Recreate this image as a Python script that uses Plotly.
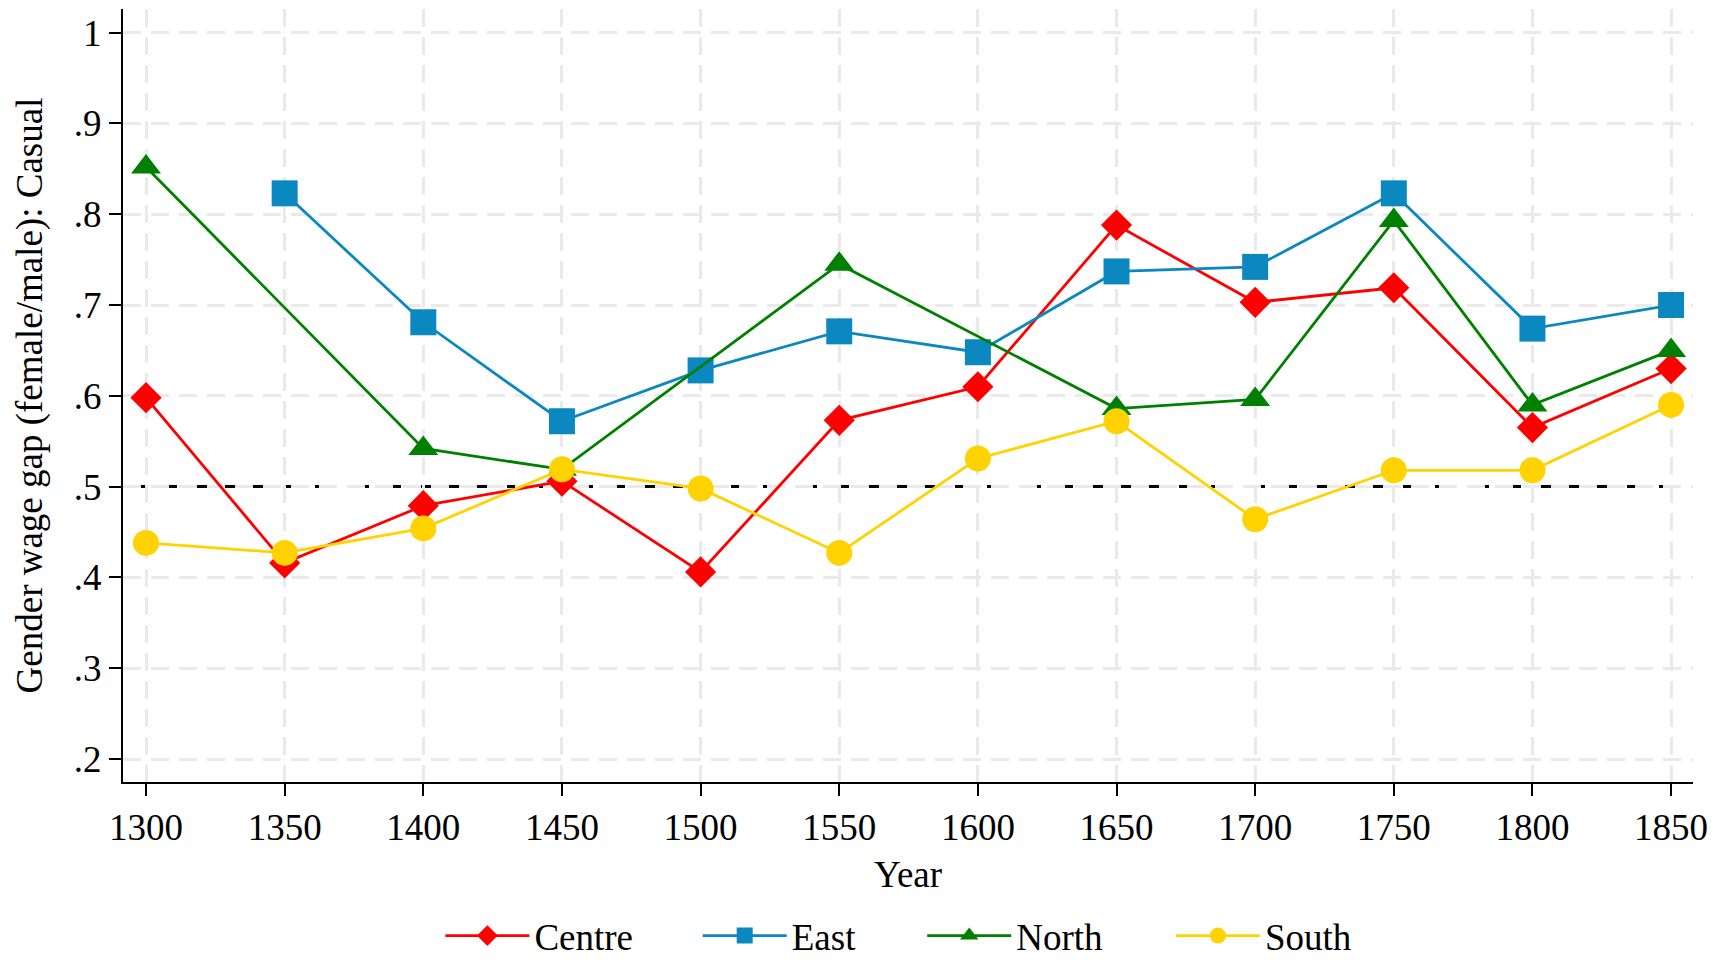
import plotly.graph_objects as go

years = [1300, 1350, 1400, 1450, 1500, 1550, 1600, 1650, 1700, 1750, 1800, 1850]

centre = [0.598, 0.416, 0.479, 0.506, 0.406, 0.573, 0.610, 0.788, 0.703, 0.719, 0.565, 0.630]
east = [None, 0.823, 0.681, 0.572, 0.628, 0.671, 0.648, 0.737, 0.742, 0.823, 0.674, 0.700]
north = [0.852, None, 0.542, 0.519, None, 0.745, None, 0.586, 0.596, 0.793, 0.590, 0.650]
south = [0.438, 0.427, 0.454, 0.519, 0.498, 0.427, 0.531, 0.572, 0.464, 0.518, 0.518, 0.590]

y_ticks = [0.2, 0.3, 0.4, 0.5, 0.6, 0.7, 0.8, 0.9, 1.0]
y_labels = [".2", ".3", ".4", ".5", ".6", ".7", ".8", ".9", "1"]

FONT = "Liberation Serif"
FS = 37

series = [
    ("Centre", centre, "#FF0000", "diamond", 24),
    ("East", east, "#0A88BF", "square", 26),
    ("North", north, "#008000", "triangle-up", 26),
    ("South", south, "#FFD200", "circle", 26),
]

# one legend box per series so the key entries can be spaced freely
legend_ids = ["legend", "legend2", "legend3", "legend4"]
legend_x = [0.255, 0.404, 0.534, 0.678]

fig = go.Figure()
for (name, vals, color, symbol, size), lid in zip(series, legend_ids):
    fig.add_trace(go.Scatter(
        x=years, y=vals, name=name, mode="lines+markers",
        connectgaps=True, legend=lid,
        line=dict(color=color, width=2.8),
        marker=dict(symbol=symbol, size=size, color=color, line=dict(width=0)),
    ))

# reference line at 0.5: white backing so the grid does not show in the gaps
fig.add_shape(type="line", xref="paper", x0=0, x1=1, yref="y", y0=0.5, y1=0.5,
              line=dict(color="white", width=5), layer="between")
fig.add_shape(type="line", xref="paper", x0=0, x1=1, yref="y", y0=0.5, y1=0.5,
              line=dict(color="black", width=3, dash="22px,10px"), layer="between")

axis_common = dict(
    showline=True, linecolor="black", linewidth=2,
    ticks="outside", ticklen=12, tickwidth=2, tickcolor="black",
    showgrid=True, gridcolor="#EAEAEA", gridwidth=2.5, griddash="18px,10px",
    zeroline=False, mirror=False, tickfont=dict(family=FONT, size=FS),
)

legend_common = dict(orientation="h", xref="container", xanchor="left",
                     yref="container", y=0, yanchor="bottom",
                     font=dict(family=FONT, size=FS), itemwidth=84,
                     itemsizing="trace", bgcolor="rgba(0,0,0,0)")
legends = {lid: dict(x=lx, **legend_common) for lid, lx in zip(legend_ids, legend_x)}

fig.update_layout(
    width=1727, height=967,
    margin=dict(l=123, r=34, t=9, b=185),
    paper_bgcolor="white", plot_bgcolor="white",
    font=dict(family=FONT, size=FS, color="black"),
    showlegend=True,
    xaxis=dict(
        range=[1291.7, 1857.9], tickmode="array", tickvals=years,
        title=dict(text="Year", font=dict(family=FONT, size=FS), standoff=14),
        **axis_common,
    ),
    yaxis=dict(
        range=[0.1747, 1.026], tickmode="array", tickvals=y_ticks, ticktext=y_labels,
        title=dict(text="Gender wage gap (female/male): Casual",
                   font=dict(family=FONT, size=FS), standoff=20),
        **axis_common,
    ),
    **legends,
)

fig.write_html("out.html")
